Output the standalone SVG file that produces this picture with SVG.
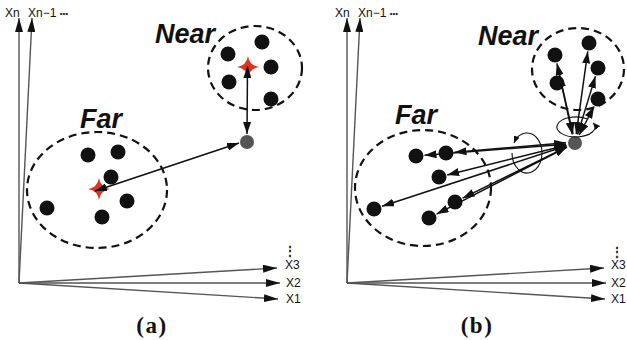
<svg xmlns="http://www.w3.org/2000/svg" width="627" height="340" viewBox="0 0 627 340">
<defs>
<style>
.axis{stroke:#555;stroke-width:1.4;fill:none}
.ell{fill:none;stroke:#111;stroke-width:2.2;stroke-dasharray:8 5}
.dot{fill:#111}
.gdot{fill:#555}
.star{fill:#e2321e}
.con{stroke:#111;stroke-width:1.5;fill:none}
.loop{stroke:#111;stroke-width:1.1;fill:none}
.ax{font-family:"Liberation Sans",Arial,sans-serif;font-size:12px;fill:#111}
.lbl{font-family:"Liberation Sans",Arial,sans-serif;font-size:27px;font-weight:bold;font-style:italic;fill:#111}
.cap{font-family:"Liberation Serif","Times New Roman",serif;font-size:23px;font-weight:bold;fill:#111;letter-spacing:1.5px}
</style>
<marker id="ah" viewBox="0 0 12 8" refX="12" refY="4" markerWidth="12" markerHeight="8" markerUnits="userSpaceOnUse" orient="auto-start-reverse"><path d="M0,0 L12,4 L0,8 z" fill="#111"/></marker>
<marker id="axh" viewBox="0 0 14 8" refX="14" refY="4" markerWidth="14" markerHeight="8" markerUnits="userSpaceOnUse" orient="auto"><path d="M0,0 L14,4 L0,8 z" fill="#111"/></marker>
<marker id="sh" viewBox="0 0 7 6" refX="7" refY="3" markerWidth="7" markerHeight="6" markerUnits="userSpaceOnUse" orient="auto"><path d="M0,0 L7,3 L0,6 z" fill="#111"/></marker>
<path id="starShape" d="M0,-11 Q1.5,-1.5 11,0 Q1.5,1.5 0,11 Q-1.5,1.5 -11,0 Q-1.5,-1.5 0,-11 z"/>
</defs>
<rect width="627" height="340" fill="#fff"/>

<!-- Panel (a) -->
<g id="axes-a">
<path class="axis" d="M19,283 L19,18" marker-end="url(#axh)"/>
<path class="axis" d="M19,283 L32,18" marker-end="url(#axh)"/>
<path class="axis" d="M19,283 L277,268" marker-end="url(#axh)"/>
<path class="axis" d="M19,283 L280,283" marker-end="url(#axh)"/>
<path class="axis" d="M19,283 L278,299" marker-end="url(#axh)"/>
<text class="ax" x="5" y="17">Xn</text>
<text class="ax" x="28" y="17">Xn−1 <tspan font-size="8" dy="-1">•••</tspan></text>
<text class="ax" x="284" y="255" font-family="DejaVu Sans" font-weight="bold" font-size="11">⋮</text>
<text class="ax" x="285" y="269">X3</text>
<text class="ax" x="286" y="287">X2</text>
<text class="ax" x="286" y="303">X1</text>
</g>
<g id="near-a">
<ellipse class="ell" cx="255" cy="68" rx="47" ry="42"/>
<text class="lbl" x="155" y="43">Near</text>
<circle class="dot" cx="262" cy="42" r="7.5"/>
<circle class="dot" cx="228" cy="54" r="7.5"/>
<circle class="dot" cx="271" cy="67" r="7.5"/>
<circle class="dot" cx="229" cy="82" r="7.5"/>
<circle class="dot" cx="271" cy="99" r="7.5"/>
<use href="#starShape" class="star" x="248" y="67"/>
</g>
<g id="far-a">
<ellipse class="ell" cx="97" cy="190" rx="70" ry="58"/>
<text class="lbl" x="80" y="128">Far</text>
<circle class="dot" cx="88" cy="155" r="7.5"/>
<circle class="dot" cx="118" cy="152" r="7.5"/>
<circle class="dot" cx="111" cy="177" r="7.5"/>
<circle class="dot" cx="127" cy="201" r="7.5"/>
<circle class="dot" cx="47" cy="208" r="7.5"/>
<circle class="dot" cx="102" cy="217" r="7.5"/>
<use href="#starShape" class="star" x="99" y="189"/>
</g>
<g id="query-a">
<circle class="gdot" cx="247" cy="142" r="7"/>
</g>
<g id="connectors-a">
<path class="con" d="M247.5,66 L247,134" marker-start="url(#ah)" marker-end="url(#ah)"/>
<path class="con" d="M95,191 L239,143" marker-start="url(#ah)" marker-end="url(#ah)"/>
</g>
<text class="cap" x="152" y="333" text-anchor="middle">(a)</text>

<!-- Panel (b) -->
<g id="axes-b">
<path class="axis" d="M347,283 L347,18" marker-end="url(#axh)"/>
<path class="axis" d="M347,283 L360,18" marker-end="url(#axh)"/>
<path class="axis" d="M347,283 L604,268" marker-end="url(#axh)"/>
<path class="axis" d="M347,283 L606,283" marker-end="url(#axh)"/>
<path class="axis" d="M347,283 L605,299" marker-end="url(#axh)"/>
<text class="ax" x="335" y="17">Xn</text>
<text class="ax" x="358" y="17">Xn−1 <tspan font-size="8" dy="-1">•••</tspan></text>
<text class="ax" x="611" y="256" font-family="DejaVu Sans" font-weight="bold" font-size="11">⋮</text>
<text class="ax" x="611" y="269">X3</text>
<text class="ax" x="611" y="287">X2</text>
<text class="ax" x="611" y="303">X1</text>
</g>
<g id="near-b">
<ellipse class="ell" cx="578" cy="69" rx="46" ry="41"/>
<text class="lbl" x="478" y="45">Near</text>
<circle class="dot" cx="589" cy="43" r="7.5"/>
<circle class="dot" cx="555" cy="55" r="7.5"/>
<circle class="dot" cx="598" cy="68" r="7.5"/>
<circle class="dot" cx="557" cy="83" r="7.5"/>
<circle class="dot" cx="598" cy="99" r="7.5"/>
</g>
<g id="far-b">
<ellipse class="ell" cx="423" cy="188" rx="68" ry="58"/>
<text class="lbl" x="395" y="124">Far</text>
<circle class="dot" cx="416" cy="156" r="7.5"/>
<circle class="dot" cx="446" cy="153" r="7.5"/>
<circle class="dot" cx="439" cy="177" r="7.5"/>
<circle class="dot" cx="455" cy="202" r="7.5"/>
<circle class="dot" cx="374" cy="209" r="7.5"/>
<circle class="dot" cx="429" cy="218" r="7.5"/>
</g>
<g id="query-b">
<circle class="gdot" cx="575" cy="143" r="7"/>
</g>
<g id="connectors-b">
<path class="con" d="M576.2,134.1 L587.8,51.4" marker-start="url(#ah)" marker-end="url(#ah)"/>
<path class="con" d="M573,134.2 L556.9,63.3" marker-start="url(#ah)" marker-end="url(#ah)"/>
<path class="con" d="M577.6,134.4 L595.5,76.1" marker-start="url(#ah)" marker-end="url(#ah)"/>
<path class="con" d="M572.4,134.4 L559.4,74.9" marker-start="url(#ah)" marker-end="url(#ah)"/>
<path class="con" d="M579.2,135 L594.1,106.5" marker-start="url(#ah)" marker-end="url(#ah)"/>
<path class="con" d="M566,144.2 L424.5,155.3" marker-start="url(#ah)" marker-end="url(#ah)"/>
<path class="con" d="M566,142.8 L454.5,152.3" marker-start="url(#ah)" marker-end="url(#ah)"/>
<path class="con" d="M566.3,145.2 L447.2,174.9" marker-start="url(#ah)" marker-end="url(#ah)"/>
<path class="con" d="M566.9,147 L462.6,198.2" marker-start="url(#ah)" marker-end="url(#ah)"/>
<path class="con" d="M566.5,145.8 L382.1,206.3" marker-start="url(#ah)" marker-end="url(#ah)"/>
<path class="con" d="M567,147.1 L436.6,214.1" marker-start="url(#ah)" marker-end="url(#ah)"/>
<path class="loop" d="M512,153 A15,20 0 1 0 514,143" marker-end="url(#sh)"/>
<path class="loop" d="M586.9,118.8 A19,10 0 1 0 593.2,122.8" marker-end="url(#sh)"/>
</g>
<text class="cap" x="477" y="333" text-anchor="middle">(b)</text>
</svg>
